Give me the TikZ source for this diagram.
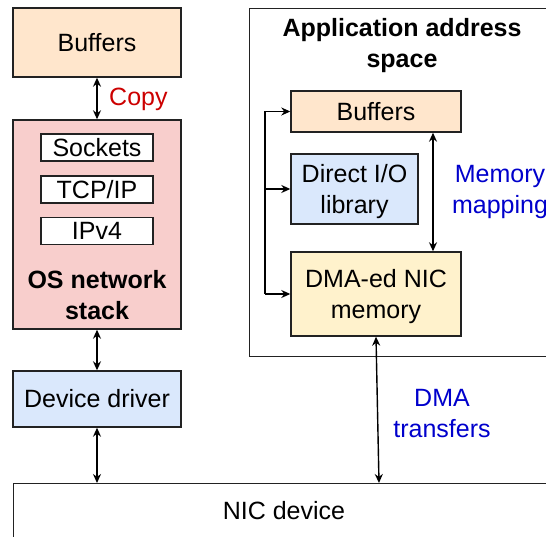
\documentclass[tikz,border=0pt]{standalone}
\usepackage{fontspec}
\setmainfont{Liberation Sans}
\usetikzlibrary{arrows.meta,calc}
\definecolor{orangef}{HTML}{FFE6CC}
\definecolor{redf}{HTML}{F8CECC}
\definecolor{bluef}{HTML}{DAE8FC}
\definecolor{yellowf}{HTML}{FFF2CC}
\definecolor{txtred}{HTML}{CC0000}
\definecolor{txtblue}{HTML}{0000CC}
\definecolor{strk}{HTML}{222222}
\begin{document}
\begin{tikzpicture}[x=1pt,y=-1pt,
  box/.style={draw=strk, line width=1.4pt, inner sep=0pt, align=center, font=\fontsize{25}{31}\selectfont},
  lbl/.style={inner sep=0pt, align=center, font=\fontsize{25}{31}\selectfont},
  ttl/.style={inner sep=0pt, align=center, font=\fontsize{25}{31}\selectfont\bfseries},
  arr/.style={line width=1.4pt, draw=black, {Stealth[length=9pt,width=8pt]}-{Stealth[length=9pt,width=8pt]}},
  sarr/.style={line width=1.4pt, draw=black, -{Stealth[length=9pt,width=8pt]}}]
\useasboundingbox (0,0) rectangle (546,537);
\clip (0,0) rectangle (546,537);
% left column
\node[box, fill=orangef, minimum width=168, minimum height=69] (buf1) at (97,42.5) {Buffers};
\node[box, fill=redf, minimum width=168, minimum height=209] (os) at (97,224.5) {};
\node[box, fill=white, minimum width=112, minimum height=27] (sock) at (97,147.5) {Sockets};
\node[box, fill=white, minimum width=112, minimum height=27] (tcp) at (97,189.5) {TCP/IP};
\node[box, fill=white, minimum width=112, minimum height=27] (ipv) at (97,231) {IPv4};
\node[ttl] (ostxt) at (97,295.5) {OS network\\stack};
\node[box, fill=bluef, minimum width=168, minimum height=56] (dd) at (97,399) {Device driver};
\node[box, fill=white, minimum width=542, minimum height=100, anchor=north west] (nic) at (13,483) {};
\node[lbl] (nictxt) at (284,511) {NIC device};
\draw[arr] (buf1.south) -- (os.north);
\node[lbl, text=txtred, anchor=west] (copy) at (109,99) {Copy};
\draw[arr] (os.south) -- (dd.north);
\draw[arr] (dd.south) -- (dd.south |- nic.north);
% application address space
\node[box, fill=white, minimum width=306, minimum height=348, anchor=north west] (app) at (249,8) {};
\node[ttl] (apptxt) at (402,45.5) {Application address\\space};
\node[box, fill=orangef, minimum width=170, minimum height=41] (buf2) at (376,111.5) {Buffers};
\node[box, fill=bluef, minimum width=127, minimum height=70] (dio) at (354.5,189) {};
\node[lbl] (diotxt) at (354.5,192) {Direct I/O\\library};
\node[box, fill=yellowf, minimum width=170, minimum height=84] (dma) at (376,294) {};
\node[lbl] (dmatxt) at (376,297) {DMA-ed NIC\\memory};
\coordinate (bx) at (265,0);
\draw[line width=1.4pt] (bx |- buf2.west) -- (bx |- dma.west);
\draw[sarr] (bx |- buf2.west) -- (buf2.west);
\draw[sarr] (bx |- dio.west) -- (dio.west);
\draw[sarr] (bx |- dma.west) -- (dma.west);
\coordinate (mm) at (433,0);
\draw[arr] (mm |- buf2.south) -- (mm |- dma.north);
\node[lbl, text=txtblue] (mmtxt) at (500,192) {Memory\\mapping};
\draw[arr] (dma.south) -- ([xshift=3pt]dma.south |- nic.north);
\node[lbl, text=txtblue] (dmatrtxt) at (442,414) {DMA\\transfers};
\end{tikzpicture}
\end{document}
